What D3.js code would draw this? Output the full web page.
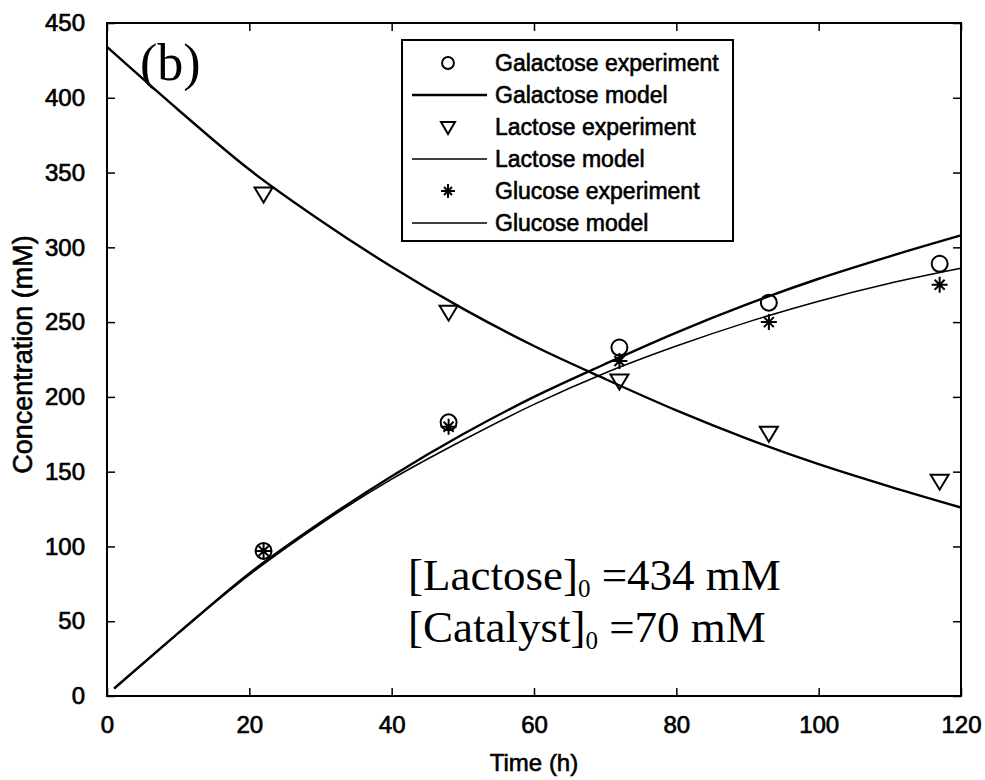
<!DOCTYPE html>
<html>
<head>
<meta charset="utf-8">
<script src="https://cdn.jsdelivr.net/npm/d3@7"></script>
<style>
  body { margin: 0; background: #fff; }
  text { font-family: "Liberation Sans", Arial, sans-serif; fill: #000; }
  text.serif { font-family: "Liberation Serif", "Times New Roman", serif; }
</style>
</head>
<body>
<div id="chart"></div>
<script>
// measured points (h, mM)
var expTimes = [22, 48, 72, 93, 117];
var galactoseExp = [97, 183, 233, 263, 289];
var lactoseExp = [336, 257, 211, 176, 144];
var glucoseExp = [97, 180, 224, 250, 275];

// model curves
var modelTimes = [1, 10, 20, 30, 40, 50, 60, 70, 80, 90, 100, 110, 120];
var lactoseModelTimes = [0, 10, 20, 30, 40, 50, 60, 70, 80, 90, 100, 110, 120];
var galactoseModel = [5, 42, 82, 116, 147, 175, 200, 222, 243, 262, 279, 294, 308];
var lactoseModel = [434, 392, 352, 318, 287, 259, 234, 212, 191, 172, 155, 140, 126];
var glucoseModel = [5, 42, 81, 115, 145, 171, 195, 216, 234, 250, 264, 276, 286];

var xTicks = [0, 20, 40, 60, 80, 100, 120];
var yTicks = [0, 50, 100, 150, 200, 250, 300, 350, 400, 450];

var legendItems = [
  {label: "Galactose experiment", kind: "circle"},
  {label: "Galactose model", kind: "line", w: 2.4},
  {label: "Lactose experiment", kind: "triangle"},
  {label: "Lactose model", kind: "line", w: 1.6},
  {label: "Glucose experiment", kind: "star"},
  {label: "Glucose model", kind: "line", w: 1.4}
];

var W = 985, H = 780;
var margin = {top: 23, right: 24, bottom: 84, left: 107},
    width = W - margin.left - margin.right,
    height = H - margin.top - margin.bottom;

var svg = d3.select("#chart").append("svg")
    .attr("width", W)
    .attr("height", H);

var g = svg.append("g")
    .attr("transform", "translate(" + margin.left + "," + margin.top + ")");

var x = d3.scaleLinear().domain([0, 120]).range([0, width]);
var y = d3.scaleLinear().domain([0, 450]).range([height, 0]);

// axes, ticks inward on all sides
function styleAxis(sel) {
  sel.select(".domain").remove();
  sel.selectAll(".tick line").attr("stroke", "#000").attr("stroke-width", 1.5);
  sel.selectAll("text").style("font-size", "24px").style("stroke", "#000").style("stroke-width", 0.7);
}

g.append("g")
    .attr("transform", "translate(0," + height + ")")
    .call(d3.axisBottom(x).tickValues(xTicks).tickSize(-8).tickPadding(20))
    .call(styleAxis);
g.append("g")
    .call(d3.axisTop(x).tickValues(xTicks).tickSize(-8).tickFormat(""))
    .call(styleAxis);
g.append("g")
    .call(d3.axisLeft(y).tickValues(yTicks).tickSize(-8).tickPadding(22))
    .call(styleAxis);
g.append("g")
    .attr("transform", "translate(" + width + ",0)")
    .call(d3.axisRight(y).tickValues(yTicks).tickSize(-8).tickFormat(""))
    .call(styleAxis);

g.append("rect")
    .attr("width", width)
    .attr("height", height)
    .attr("fill", "none")
    .attr("stroke", "#000")
    .attr("stroke-width", 2);

// model lines
var line = d3.line()
    .x(function(d) { return x(d[0]); })
    .y(function(d) { return y(d[1]); })
    .curve(d3.curveMonotoneX);

g.append("path")
    .datum(d3.zip(modelTimes, galactoseModel))
    .attr("d", line).attr("fill", "none").attr("stroke", "#000").attr("stroke-width", 2.4);
g.append("path")
    .datum(d3.zip(lactoseModelTimes, lactoseModel))
    .attr("d", line).attr("fill", "none").attr("stroke", "#000").attr("stroke-width", 2.4);
g.append("path")
    .datum(d3.zip(modelTimes, glucoseModel))
    .attr("d", line).attr("fill", "none").attr("stroke", "#000").attr("stroke-width", 1.5);

// marker shapes
var circleSym = d3.symbol().type(d3.symbolCircle).size(200);
var triPath = "M-9,-6L9,-6L0,9Z";
var starPath = "M-8,0L8,0M0,-8L0,8M-5,-5L5,5M-5,5L5,-5";

function drawMarks(vals, path) {
  g.append("g").selectAll("path")
    .data(d3.zip(expTimes, vals))
    .enter().append("path")
    .attr("transform", function(d) { return "translate(" + x(d[0]) + "," + y(d[1]) + ")"; })
    .attr("d", path)
    .attr("fill", "none")
    .attr("stroke", "#000")
    .attr("stroke-width", 2);
}
drawMarks(galactoseExp, circleSym());
drawMarks(lactoseExp, triPath);
drawMarks(glucoseExp, starPath);

// legend
var leg = svg.append("g").attr("transform", "translate(402,40)");
leg.append("rect")
    .attr("width", 331).attr("height", 201)
    .attr("fill", "#fff").attr("stroke", "#000").attr("stroke-width", 2);

var rows = leg.selectAll(".row")
    .data(legendItems)
    .enter().append("g")
    .attr("transform", function(d, i) { return "translate(0," + (23 + i * 32) + ")"; });

rows.append("text")
    .attr("x", 93)
    .attr("dy", "0.35em")
    .style("font-size", "23px")
    .style("stroke", "#000").style("stroke-width", 0.6)
    .text(function(d) { return d.label; });

rows.each(function(d) {
  var r = d3.select(this);
  if (d.kind === "line") {
    r.append("line").attr("x1", 10).attr("x2", 85)
      .attr("stroke", "#000").attr("stroke-width", d.w);
  } else {
    var p = d.kind === "circle" ? d3.symbol().type(d3.symbolCircle).size(110)()
          : d.kind === "triangle" ? "M-7,-5L7,-5L0,7Z"
          : "M-7,0L7,0M0,-7L0,7M-4,-4L4,4M-4,4L4,-4";
    r.append("path").attr("transform", "translate(46,0)")
      .attr("d", p).attr("fill", "none").attr("stroke", "#000").attr("stroke-width", 2);
  }
});

// axis titles
svg.append("text")
    .attr("x", margin.left + width / 2).attr("y", 771)
    .attr("text-anchor", "middle")
    .style("font-size", "24px").style("stroke", "#000").style("stroke-width", 0.6)
    .text("Time (h)");
svg.append("text")
    .attr("transform", "translate(32," + (margin.top + height / 2 - 5) + ") rotate(-90)")
    .attr("text-anchor", "middle")
    .style("font-size", "27px").style("stroke", "#000").style("stroke-width", 0.6)
    .text("Concentration (mM)");

// panel label and annotation
svg.append("text")
    .attr("class", "serif")
    .attr("x", 140).attr("y", 80)
    .style("font-size", "52px")
    .text("(b)");

function annotate(yPos, name, rest) {
  var t = svg.append("text").attr("class", "serif")
      .attr("x", 408).attr("y", yPos)
      .style("font-size", "45px");
  t.append("tspan").text(name);
  t.append("tspan").attr("dy", 7).style("font-size", "25px").text("0");
  t.append("tspan").attr("dy", -7).text(" =" + rest);
}
annotate(590, "[Lactose]", "434 mM");
annotate(642, "[Catalyst]", "70 mM");
</script>
</body>
</html>
